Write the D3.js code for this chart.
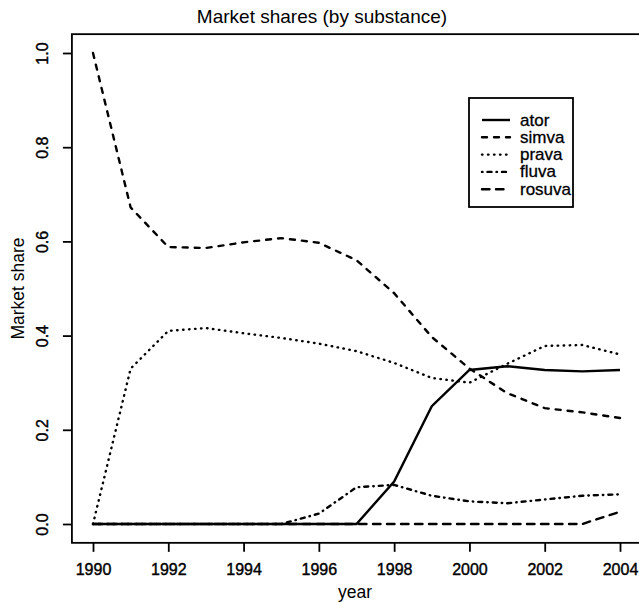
<!DOCTYPE html>
<html>
<head>
<meta charset="utf-8">
<script src="https://cdn.jsdelivr.net/npm/d3@7"></script>
<style>
  body { margin: 0; background: #fff; }
  text { font-family: "Liberation Sans", Arial, sans-serif; fill: #000; }
</style>
</head>
<body>
<script>
const years  = [1990, 1991, 1992, 1993, 1994, 1995, 1996, 1997, 1998, 1999, 2000, 2001, 2002, 2003, 2004];
const ator   = [0, 0, 0, 0, 0, 0, 0, 0, 0.09, 0.25, 0.327, 0.335, 0.327, 0.324, 0.327];
const simva  = [1.0, 0.672, 0.588, 0.586, 0.598, 0.607, 0.597, 0.560, 0.49, 0.397, 0.33, 0.278, 0.246, 0.237, 0.225];
const prava  = [0, 0.33, 0.41, 0.416, 0.405, 0.395, 0.383, 0.367, 0.342, 0.31, 0.30, 0.34, 0.378, 0.38, 0.36];
const fluva  = [0, 0, 0, 0, 0, 0, 0.022, 0.078, 0.083, 0.06, 0.048, 0.044, 0.052, 0.06, 0.063];
const rosuva = [0, 0, 0, 0, 0, 0, 0, 0, 0, 0, 0, 0, 0, 0, 0.026];
const names  = ['ator', 'simva', 'prava', 'fluva', 'rosuva'];
const xTicks = [1990, 1992, 1994, 1996, 1998, 2000, 2002, 2004];
const yTicks = [0, 0.2, 0.4, 0.6, 0.8, 1.0];

const series = [ator, simva, prava, fluva, rosuva];
// line styles like R's lty 1..5
const dashes = [null, '5,7', '0.5,5.5', '0.5,5,4,5', '7.5,6.5'];

const width = 639, height = 602;

const x = d3.scaleLinear().domain([1990, 2004]).range([93, 620]);
const y = d3.scaleLinear().domain([0, 1]).range([524, 53]);

const svg = d3.select('body').append('svg')
    .attr('width', width)
    .attr('height', height);

// plot box (R extends the range by 4%)
const x0 = x(1990 - 0.56), x1 = x(2004 + 0.56);
const y0 = y(-0.04), y1 = y(1.04);
svg.append('rect')
    .attr('x', x0).attr('y', y1)
    .attr('width', x1 - x0).attr('height', y0 - y1)
    .attr('fill', 'none')
    .attr('stroke', '#000')
    .attr('stroke-width', 1.8);

// x axis
const xAxis = svg.append('g')
    .attr('transform', 'translate(0,' + y0 + ')')
    .call(d3.axisBottom(x).tickValues(xTicks).tickFormat(d3.format('d'))
          .tickSize(9).tickSizeOuter(0).tickPadding(12));
xAxis.select('.domain').remove();
xAxis.selectAll('line').attr('stroke-width', 1.8);
xAxis.selectAll('text')
    .attr('font-size', 16)
    .attr('font-family', '"Liberation Sans", Arial, sans-serif')
    .attr('stroke', '#000').attr('stroke-width', 0.4);

// y axis, labels turned like R's las=0
const yAxis = svg.append('g')
    .attr('transform', 'translate(' + x0 + ',0)')
    .call(d3.axisLeft(y).tickValues(yTicks).tickFormat(d3.format('.1f'))
          .tickSize(9).tickSizeOuter(0));
yAxis.select('.domain').remove();
yAxis.selectAll('line').attr('stroke-width', 1.8);
yAxis.selectAll('text')
    .attr('font-size', 16)
    .attr('font-family', '"Liberation Sans", Arial, sans-serif')
    .attr('stroke', '#000').attr('stroke-width', 0.4)
    .attr('x', 0).attr('dy', null)
    .attr('text-anchor', 'middle')
    .attr('transform', 'translate(-29,0) rotate(-90)')
    .attr('dominant-baseline', 'central');

// titles
svg.append('text')
    .attr('x', 322).attr('y', 23)
    .attr('text-anchor', 'middle')
    .attr('font-size', 19)
    .text('Market shares (by substance)');

svg.append('text')
    .attr('x', 355).attr('y', 598)
    .attr('text-anchor', 'middle')
    .attr('font-size', 17.5)
    .text('year');

svg.append('text')
    .attr('transform', 'translate(24,' + ((y0 + y1) / 2) + ') rotate(-90)')
    .attr('text-anchor', 'middle')
    .attr('font-size', 17.5)
    .text('Market share');

// lines
const line = d3.line()
    .x(function (d, i) { return x(years[i]); })
    .y(function (d) { return y(d); });

const g = svg.append('g');
series.forEach(function (s, k) {
  g.append('path')
    .datum(s)
    .attr('fill', 'none')
    .attr('stroke', '#000')
    .attr('stroke-width', 2.4)
    .attr('stroke-linecap', dashes[k] ? 'round' : 'butt')
    .attr('stroke-dasharray', dashes[k])
    .attr('d', line);
});

// legend
const leg = svg.append('g');
leg.append('rect')
    .attr('x', 469).attr('y', 98)
    .attr('width', 104).attr('height', 109)
    .attr('fill', '#fff')
    .attr('stroke', '#000')
    .attr('stroke-width', 1.8);

names.forEach(function (n, k) {
  const cy = 120 + k * 17.3;
  leg.append('line')
    .attr('x1', 482).attr('x2', 510)
    .attr('y1', cy).attr('y2', cy)
    .attr('stroke', '#000')
    .attr('stroke-width', 2.4)
    .attr('stroke-linecap', dashes[k] ? 'round' : 'butt')
    .attr('stroke-dasharray', dashes[k]);
  leg.append('text')
    .attr('x', 520).attr('y', cy)
    .attr('dominant-baseline', 'central')
    .attr('font-size', 17)
    .attr('stroke', '#000').attr('stroke-width', 0.3)
    .text(n);
});
</script>
</body>
</html>
